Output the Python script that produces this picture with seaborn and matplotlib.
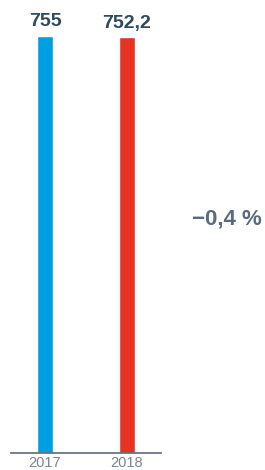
import pandas as pd
import numpy as np
import seaborn as sns
import matplotlib.pyplot as plt

years = ['2017', '2018']
values = [755, 752.2]
value_labels = ['755', '752,2']
change_label = '\u22120,4\u00a0%'
bar_colors = ['#009fe3', '#e63323']

sns.set_theme(style='white')
plt.rcParams['font.family'] = ['Liberation Sans', 'DejaVu Sans']

df = pd.DataFrame({'year': years, 'value': values})

fig = plt.figure(figsize=(2.65, 4.7), dpi=100)
ax = fig.add_axes([11 / 265, 1 - 453 / 470, 150 / 265, 453 / 470])

sns.barplot(data=df, x='year', y='value', hue='year', palette=bar_colors,
            width=0.195, legend=False, ax=ax, saturation=1)

ax.set_xlim(-0.415, 1.415)
ax.set_ylim(0, 820)

for c, lab in zip(ax.containers, value_labels):
    ax.bar_label(c, labels=[lab], padding=4, fontsize=14, fontweight='bold',
                 color='#2d4a5e')

ax.set_xlabel('')
ax.set_ylabel('')
ax.set_yticks([])
ax.tick_params(axis='x', length=0, pad=2.5, labelsize=10.5, labelcolor='#7a8591')
for s in ['top', 'right', 'left']:
    ax.spines[s].set_visible(False)
ax.spines['bottom'].set_color('#5b6b7b')
ax.spines['bottom'].set_linewidth(1.2)

fig.text(227 / 265, 1 - 219 / 470, change_label, ha='center', va='center',
         fontsize=16, fontweight='bold', color='#5a6b7d')

fig.savefig('out.png', dpi=100)
